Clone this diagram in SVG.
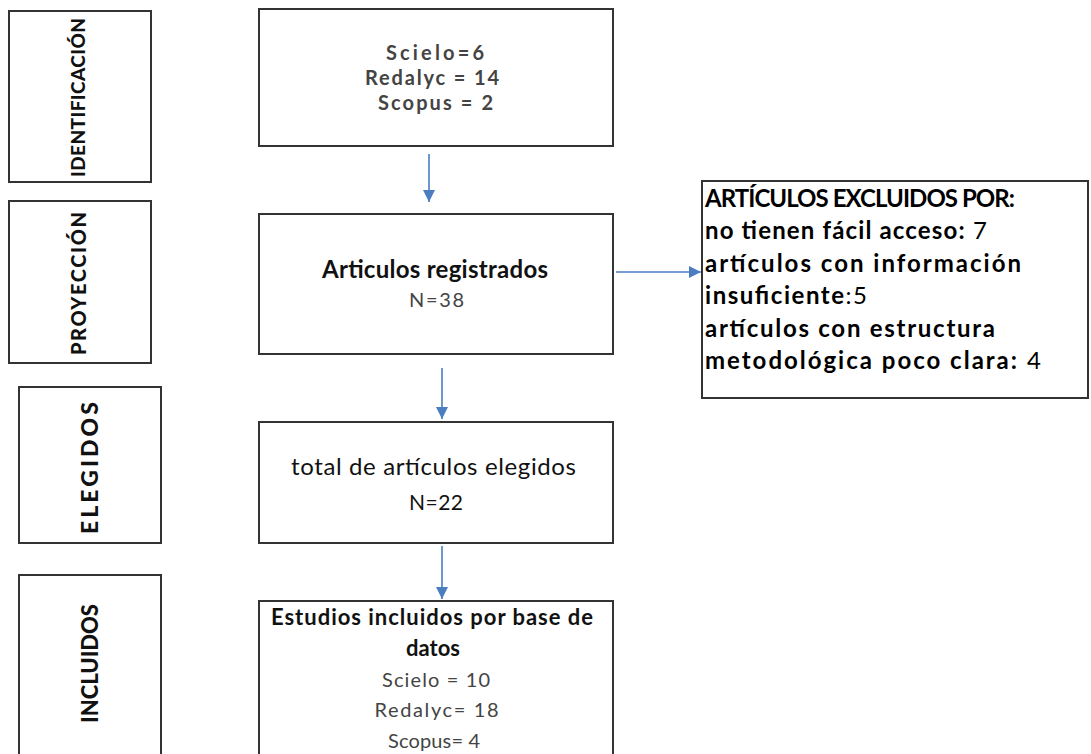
<svg xmlns="http://www.w3.org/2000/svg" width="1091" height="754" viewBox="0 0 1091 754">
<style>
.box{fill:#fff;stroke:#333;stroke-width:2}
.lbl{font-family:Lato,"Liberation Sans",sans-serif;font-weight:900;fill:#111;text-anchor:middle}
.t{font-family:Lato,"Liberation Sans",sans-serif;text-anchor:middle}
.b{font-weight:bold}
.g{fill:#444}
.k{fill:#111}
.r{font-family:Lato,"Liberation Sans",sans-serif;font-size:24px;fill:#000}
.n{font-weight:normal}
.conn{stroke:#4a7ec0;stroke-width:1.6;fill:none;marker-end:url(#ah)}
</style>
<defs>
<marker id="ah" viewBox="0 0 10 10" refX="10" refY="5" markerWidth="12" markerHeight="12" markerUnits="userSpaceOnUse" orient="auto">
<path d="M0,0 L10,5 L0,10 z" fill="#4a7ec0"/>
</marker>
</defs>
<rect width="1091" height="754" fill="#fff"/>

<g id="stage-identificacion">
<rect class="box" x="9" y="11" width="142" height="171"/>
<text class="lbl" font-size="19" transform="translate(85,97.5) rotate(-90)" textLength="159">IDENTIFICACIÓN</text>
</g>
<g id="stage-proyeccion">
<rect class="box" x="9" y="201" width="142" height="162"/>
<text class="lbl" font-size="20" transform="translate(86,283.5) rotate(-90)" textLength="143">PROYECCIÓN</text>
</g>
<g id="stage-elegidos">
<rect class="box" x="19" y="387" width="142" height="156"/>
<text class="lbl" font-size="23" transform="translate(98,468) rotate(-90)" textLength="132">ELEGIDOS</text>
</g>
<g id="stage-incluidos">
<rect class="box" x="19" y="575" width="142" height="200"/>
<text class="lbl" font-size="22" transform="translate(98,663.5) rotate(-90)" textLength="119">INCLUIDOS</text>
</g>

<g id="node-bases">
<rect class="box" x="259" y="9" width="354" height="137"/>
<text class="t b g" font-size="20" x="435" y="60" textLength="98">Scielo=6</text>
<text class="t b g" font-size="20" x="432" y="85" textLength="134">Redalyc = 14</text>
<text class="t b g" font-size="20" x="435.5" y="110" textLength="115">Scopus = 2</text>
</g>

<g id="node-registrados">
<rect class="box" x="259" y="214" width="354" height="140"/>
<text class="t b k" font-size="24" x="435" y="278" textLength="226">Articulos registrados</text>
<text class="t g" font-size="20" x="436.5" y="307" textLength="55">N=38</text>
</g>

<g id="node-elegidos">
<rect class="box" x="259" y="422" width="354" height="121"/>
<text class="t k" font-size="24" x="433.5" y="475" textLength="285">total de artículos elegidos</text>
<text class="t k" font-size="21" x="436" y="510" textLength="54">N=22</text>
</g>

<g id="node-incluidos">
<rect class="box" x="259" y="601" width="354" height="170"/>
<text class="t b k" font-size="22" x="432" y="625" textLength="322">Estudios incluidos por base de</text>
<text class="t b k" font-size="22" x="433" y="656">datos</text>
<text class="t g" font-size="20" x="436" y="687" textLength="108">Scielo = 10</text>
<text class="t g" font-size="20" x="436.5" y="717" textLength="124">Redalyc= 18</text>
<text class="t g" font-size="20" x="434" y="748" textLength="92">Scopus= 4</text>
</g>

<g id="node-excluidos">
<rect class="box" x="702" y="181" width="386" height="217"/>
<text class="r b" x="705" y="207" textLength="310">ARTÍCULOS EXCLUIDOS POR:</text>
<text class="r b" x="705" y="239" textLength="282">no tienen fácil acceso:<tspan class="n"> 7</tspan></text>
<text class="r b" x="705" y="272" textLength="316">artículos con información</text>
<text class="r b" x="705" y="304" textLength="162">insuficiente<tspan class="n">:5</tspan></text>
<text class="r b" x="705" y="337" textLength="290">artículos con estructura</text>
<text class="r b" x="705" y="369" textLength="336">metodológica poco clara:<tspan class="n"> 4</tspan></text>
</g>

<g id="connectors">
<path class="conn" d="M429,154 L429,202"/>
<path class="conn" d="M442,368 L442,419"/>
<path class="conn" d="M442,546 L442,599"/>
<path class="conn" d="M616,272 L701,272"/>
</g>
</svg>
